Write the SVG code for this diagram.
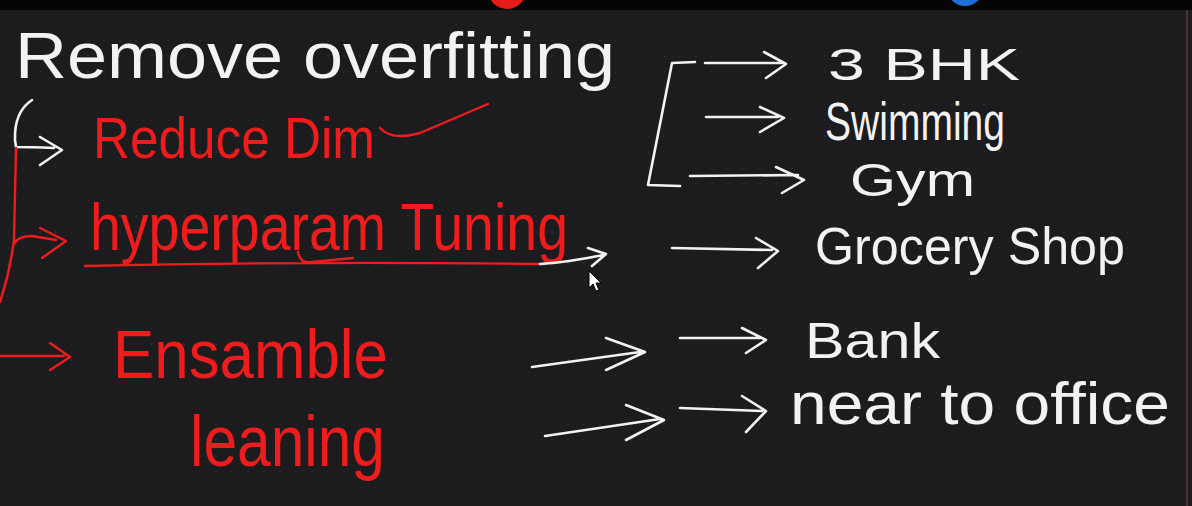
<svg xmlns="http://www.w3.org/2000/svg" width="1192" height="506" viewBox="0 0 1192 506">
<style>
.w{fill:#f2f2f2;font-family:"Liberation Sans",Arial,sans-serif}
.r{fill:#ee1c1c;font-family:"Liberation Sans",Arial,sans-serif}
.ws{fill:none;stroke:#f2f2f2;stroke-width:2.6;stroke-linecap:round;stroke-linejoin:round}
.rs{fill:none;stroke:#ee1c1c;stroke-width:2.4;stroke-linecap:round;stroke-linejoin:round}
</style>
<defs>
<pattern id="dots" width="16" height="16" patternUnits="userSpaceOnUse">
<circle cx="8" cy="8" r="0.9" fill="#38383b"/>
</pattern>
</defs>
<rect width="1192" height="506" fill="#1c1c1e"/>
<rect width="1192" height="506" fill="url(#dots)"/>
<rect width="1192" height="10" fill="#050505"/>
<circle cx="507" cy="-10" r="19" fill="#e81b1b"/>
<circle cx="965" cy="-12" r="18" fill="#1e70d8"/>
<line x1="1187" y1="10" x2="1187" y2="506" stroke="#5a3a46" stroke-width="1.5"/>

<g id="title"><text class="w" x="15" y="78" font-size="64" textLength="600" lengthAdjust="spacingAndGlyphs">Remove overfitting</text></g>
<g id="reduce-dim"><text class="r" x="93" y="158" font-size="58" textLength="282" lengthAdjust="spacingAndGlyphs">Reduce Dim</text></g>
<g id="hyperparam"><text class="r" x="90" y="250" font-size="66" textLength="478" lengthAdjust="spacingAndGlyphs">hyperparam Tuning</text></g>
<g id="ensamble"><text class="r" x="113" y="378" font-size="68" textLength="275" lengthAdjust="spacingAndGlyphs">Ensamble</text>
<text class="r" x="190" y="466" font-size="72" textLength="195" lengthAdjust="spacingAndGlyphs">leaning</text></g>
<g id="bhk"><text class="w" x="828" y="80" font-size="44" textLength="192" lengthAdjust="spacingAndGlyphs">3 BHK</text></g>
<g id="swimming"><text class="w" x="825" y="140" font-size="54" textLength="180" lengthAdjust="spacingAndGlyphs">Swimming</text></g>
<g id="gym"><text class="w" x="850" y="196" font-size="46" textLength="125" lengthAdjust="spacingAndGlyphs">Gym</text></g>
<g id="grocery"><text class="w" x="815" y="264" font-size="52" textLength="310" lengthAdjust="spacingAndGlyphs">Grocery Shop</text></g>
<g id="bank"><text class="w" x="805" y="358" font-size="50" textLength="135" lengthAdjust="spacingAndGlyphs">Bank</text></g>
<g id="office"><text class="w" x="790" y="424" font-size="60" textLength="380" lengthAdjust="spacingAndGlyphs">near to office</text></g>

<g id="connectors">
<path class="ws" d="M32 100 Q14 112 15 140 L16 147 Q30 147 54 148 M40 137 L62 150 L40 165"/>
<path class="rs" d="M380 128 Q392 141 420 133 L488 104"/>
<path class="rs" d="M16 148 L14 240 Q10 272 0 302"/>
<path class="rs" d="M14 244 Q18 236 32 236 L56 240 M40 228 L66 241 L42 258"/>
<path class="rs" d="M0 356 L64 356 M50 343 L70 357 L50 370"/>
<path class="rs" d="M85 266 Q300 261 545 264 M298 252 Q300 264 312 262 L353 258"/>
<path class="ws" d="M540 264 Q570 262 603 255 M588 248 L606 254 L592 266"/>
<path class="ws" d="M695 62 L672 63 L648 185 L680 186"/>
<path class="ws" d="M705 63 L782 63 M764 52 L786 64 L766 78"/>
<path class="ws" d="M706 117 L778 117 M760 107 L784 118 L760 132"/>
<path class="ws" d="M690 176 L798 175 M776 167 L804 180 L782 193"/>
<path class="ws" d="M672 248 L772 250 M756 238 L778 251 L758 268"/>
<path class="ws" d="M532 367 L640 352 M606 338 L645 352 L606 370"/>
<path class="ws" d="M680 338 L760 338 M742 328 L766 340 L746 353"/>
<path class="ws" d="M545 436 L660 419 M626 405 L664 420 L626 440"/>
<path class="ws" d="M680 408 L762 411 M742 396 L766 411 L746 432"/>
</g>
<polygon points="589,271 589,288 593,284 596,291 599,290 596,283 601,283" fill="#fff" stroke="#000" stroke-width="1"/>
</svg>
